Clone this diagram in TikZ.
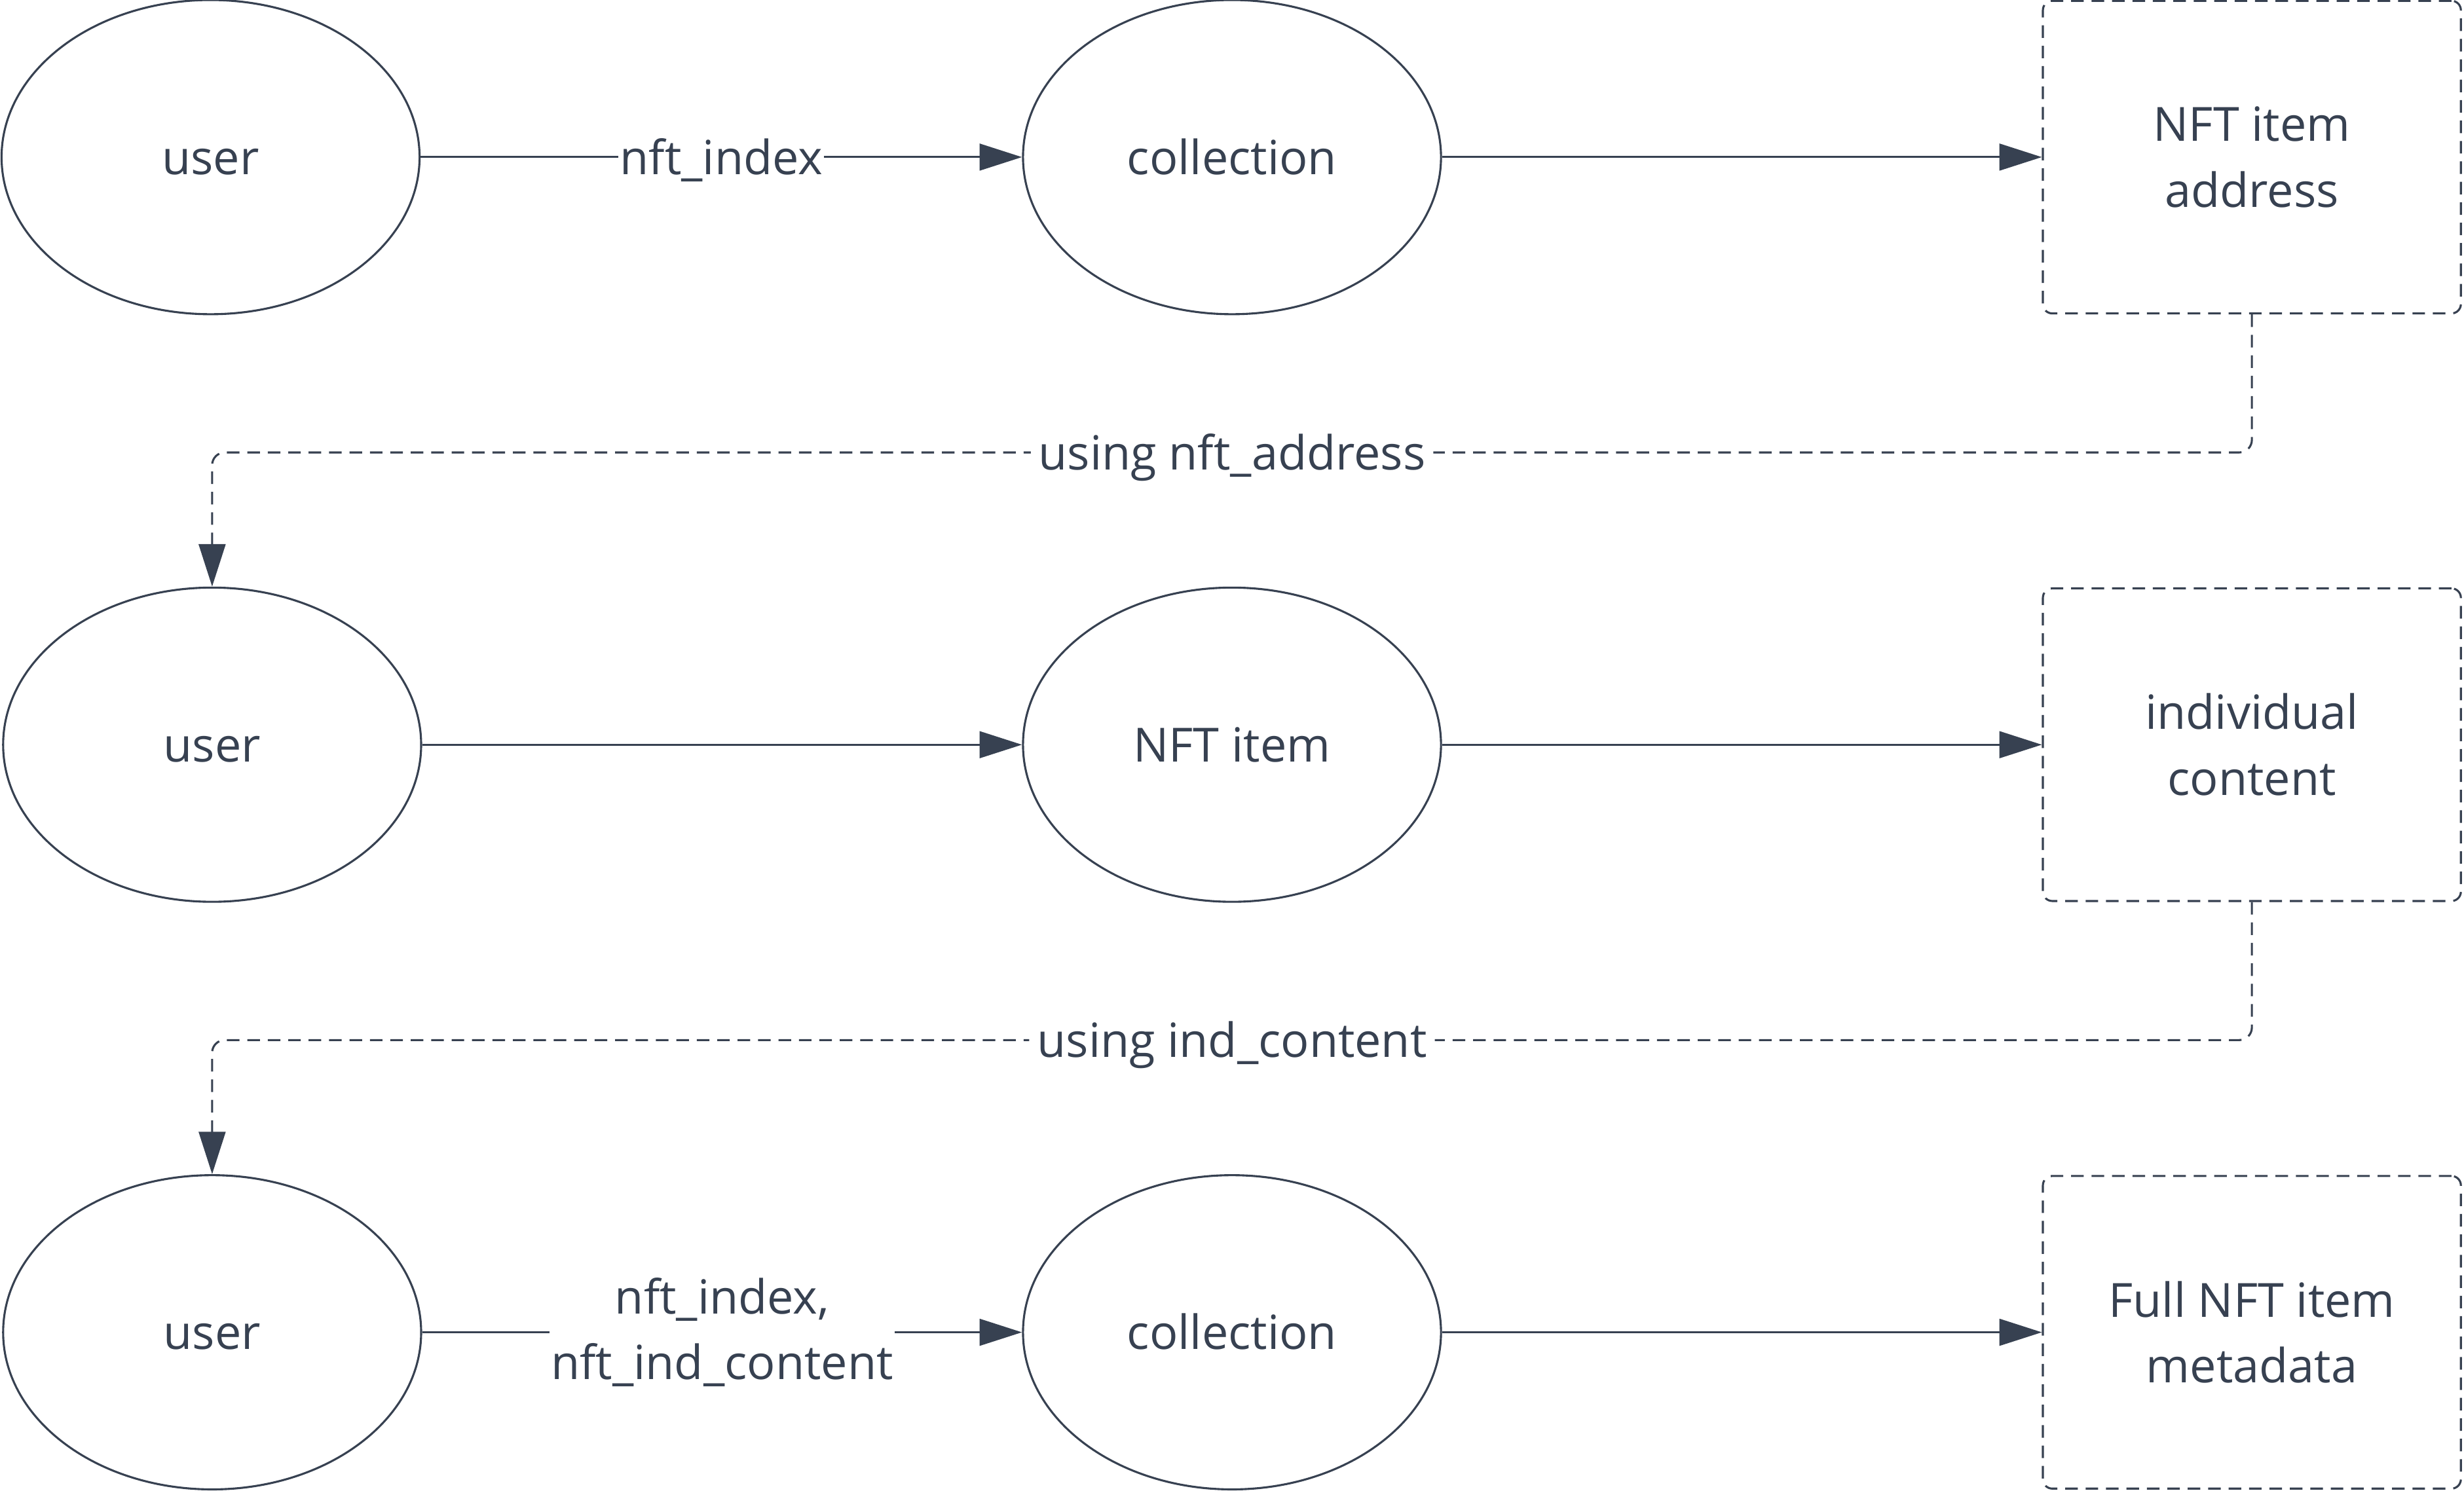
\documentclass[tikz,border=0pt]{standalone}
\usepackage{fontspec}
\setmainfont{Open Sans}
\usetikzlibrary{shapes.geometric,arrows.meta}
\definecolor{ink}{HTML}{374151}
\begin{document}
\begin{tikzpicture}[x=1pt, y=-1pt, line width=1.3pt,
   base_node_style/.style={draw=ink, text=ink, inner sep=0pt, font=\fontsize{30}{42}\selectfont, align=center},
   node_style/.style={base_node_style, ellipse, minimum width=266pt, minimum height=200pt, text height=27pt, text depth=5pt},
   box_style/.style={base_node_style, rectangle, rounded corners=6pt, dash pattern=on 8pt off 5pt, minimum width=266pt, minimum height=199pt},
   edge_style/.style={-{Triangle[length=27pt,width=17pt]}, color=ink},
   back_edge_style/.style={edge_style, dash pattern=on 8pt off 5pt, rounded corners=8pt},
   label_style/.style={fill=white, text=ink, inner sep=1pt, font=\fontsize{30}{42}\selectfont, align=center},
   line_label_style/.style={label_style, text height=27pt, text depth=5pt}]

    \useasboundingbox (0,0) rectangle (1568,950);

    % first row
    \node[node_style] (u1) at (134,100) {user};
    \node[node_style] (c1) at (784,100) {collection};
    \node[box_style] (b1) at (1433,100) {NFT item\\address};

    % second row
    \node[node_style] (u2) at (135,474) {user};
    \node[node_style] (c2) at (784,474) {NFT item};
    \node[box_style] (b2) at (1433,474) {individual\\content};

    % third row
    \node[node_style] (u3) at (135,848) {user};
    \node[node_style] (c3) at (784,848) {collection};
    \node[box_style] (b3) at (1433,848) {Full NFT item\\metadata};

    \coordinate (k1) at (784,288);
    \coordinate (k2) at (784,662);

    \path [edge_style](u1) edge node[line_label_style] {nft\_index} (c1);
    \path [edge_style](c1) edge (b1);
    \path [edge_style](u2) edge (c2);
    \path [edge_style](c2) edge (b2);
    \path [edge_style](u3) edge node[label_style] {nft\_index,\\nft\_ind\_content} (c3);
    \path [edge_style](c3) edge (b3);

    \draw [back_edge_style](b1.south) |- (k1) node[line_label_style, inner sep=5pt] {using nft\_address} -| (u2.north);
    \draw [back_edge_style](b2.south) |- (k2) node[line_label_style, inner sep=5pt] {using ind\_content} -| (u3.north);
\end{tikzpicture}
\end{document}
